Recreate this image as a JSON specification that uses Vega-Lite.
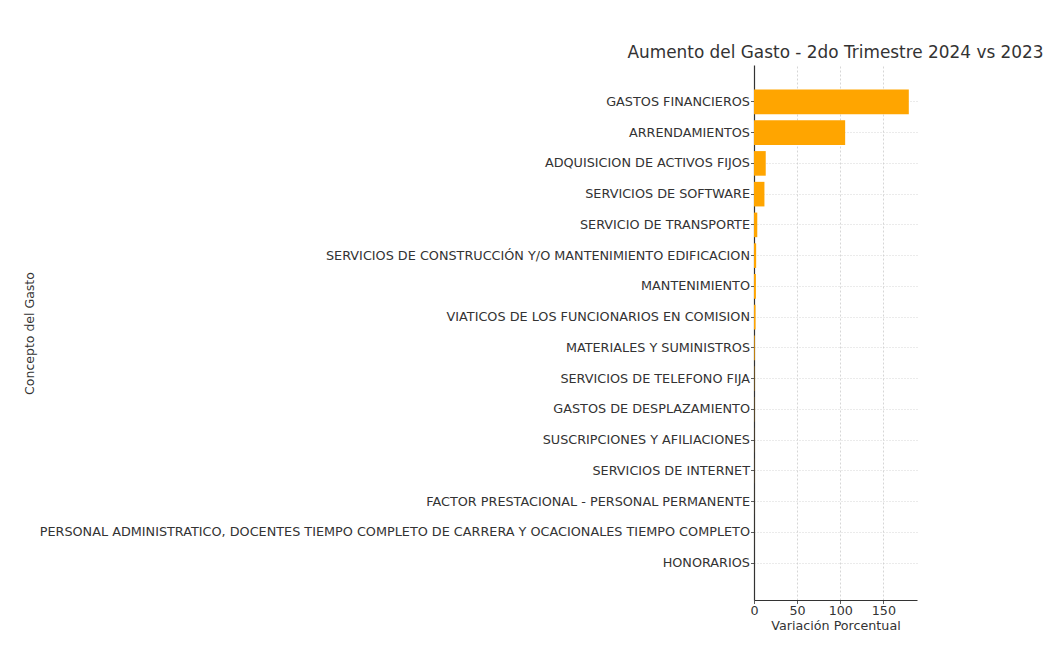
{
  "$schema": "https://vega.github.io/schema/vega-lite/v6.json",
  "autosize": {"type": "none"},
  "padding": {"left": 754, "top": 65, "right": 145, "bottom": 52},
  "width": 163,
  "height": 535,
  "background": "white",
  "title": {"text": "Aumento del Gasto - 2do Trimestre 2024 vs 2023", "font": "DejaVu Sans", "fontSize": 16.9, "fontWeight": "normal", "color": "#333333", "anchor": "middle", "offset": 3},
  "data": {"values": [
    {"concepto": "GASTOS FINANCIEROS", "variacion": 179.5},
    {"concepto": "ARRENDAMIENTOS", "variacion": 105.7},
    {"concepto": "ADQUISICION DE ACTIVOS FIJOS", "variacion": 13.6},
    {"concepto": "SERVICIOS DE SOFTWARE", "variacion": 12.1},
    {"concepto": "SERVICIO DE TRANSPORTE", "variacion": 3.8},
    {"concepto": "SERVICIOS DE CONSTRUCCIÓN Y/O MANTENIMIENTO EDIFICACION", "variacion": 2.5},
    {"concepto": "MANTENIMIENTO", "variacion": 2.2},
    {"concepto": "VIATICOS DE LOS FUNCIONARIOS EN COMISION", "variacion": 1.8},
    {"concepto": "MATERIALES Y SUMINISTROS", "variacion": 0.8},
    {"concepto": "SERVICIOS DE TELEFONO FIJA", "variacion": 0.3},
    {"concepto": "GASTOS DE DESPLAZAMIENTO", "variacion": 0.2},
    {"concepto": "SUSCRIPCIONES Y AFILIACIONES", "variacion": 0.1},
    {"concepto": "SERVICIOS DE INTERNET", "variacion": 0.1},
    {"concepto": "FACTOR PRESTACIONAL - PERSONAL PERMANENTE", "variacion": 0.05},
    {"concepto": "PERSONAL ADMINISTRATICO, DOCENTES TIEMPO COMPLETO DE CARRERA Y OCACIONALES TIEMPO COMPLETO", "variacion": 0.03},
    {"concepto": "HONORARIOS", "variacion": 0.01}
  ]},
  "mark": {"type": "bar", "color": "#FFA500"},
  "encoding": {
    "y": {
      "field": "concepto", "type": "nominal", "sort": null,
      "scale": {"paddingInner": 0.2, "paddingOuter": 0.8},
      "axis": {
        "title": "Concepto del Gasto", "titleFont": "DejaVu Sans", "titleFontSize": 12.5, "titleFontWeight": "normal", "titleColor": "#333333",
        "titleX": -718, "titleY": 268, "titleAngle": 270, "titleAlign": "center", "titleBaseline": "bottom",
        "labelFont": "DejaVu Sans", "labelFontSize": 12.8, "labelColor": "#333333", "labelPadding": 1, "labelLimit": 1000,
        "tickSize": 3.5, "tickColor": "#333333", "tickWidth": 0.8,
        "domainColor": "#333333", "domainWidth": 1.2,
        "grid": true, "bandPosition": 0.5, "gridColor": "#cccccc", "gridDash": [1, 2], "gridWidth": 0.8
      }
    },
    "x": {
      "field": "variacion", "type": "quantitative",
      "scale": {"domain": [0, 189], "nice": false, "zero": true},
      "axis": {
        "title": "Variación Porcentual", "titleFont": "DejaVu Sans", "titleFontSize": 12.7, "titleFontWeight": "normal", "titleColor": "#333333", "titlePadding": 2,
        "labelFont": "DejaVu Sans", "labelFontSize": 12.7, "labelColor": "#333333", "labelPadding": 1, "labelFlush": false,
        "values": [0, 50, 100, 150],
        "tickSize": 3.5, "tickColor": "#333333", "tickWidth": 0.8,
        "domainColor": "#333333", "domainWidth": 1.2,
        "grid": true, "gridColor": "#cccccc", "gridDash": [2, 2], "gridWidth": 0.8
      }
    }
  },
  "config": {"view": {"stroke": null}}
}
